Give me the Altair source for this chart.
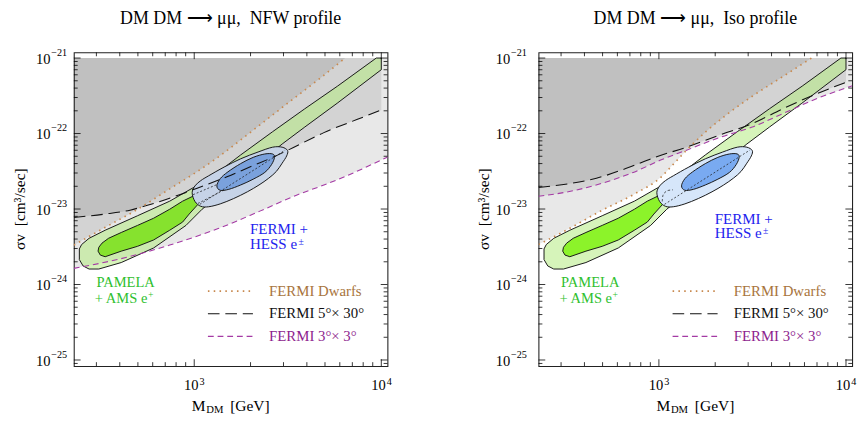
import math
import altair as alt
import pandas as pd

# ---------------------------------------------------------------------------
# Values.
# Coordinates are log10(M_DM / GeV) and log10(sigma v / cm^3 s^-1).
# ---------------------------------------------------------------------------

# PAMELA + AMS e+ region, outer contour (identical in both panels)
pamela_outer_logM = [2.386, 2.398, 2.438, 2.524, 2.697, 2.869, 2.990, 3.042, 3.160, 3.248,
                     3.419, 3.590, 3.766, 3.973, 4.000, 4.000, 3.764, 3.591, 3.470, 3.263,
                     3.042, 2.956, 2.783, 2.610, 2.490, 2.438, 2.406, 2.386]
pamela_outer_logSV = [-23.529, -23.471, -23.388, -23.281, -23.089, -22.896, -22.724, -22.660, -22.451, -22.284,
                      -21.976, -21.674, -21.372, -21.000, -21.000, -21.154, -21.599, -21.914, -22.139, -22.560,
                      -23.003, -23.217, -23.516, -23.709, -23.795, -23.795, -23.754, -23.670]

# PAMELA + AMS e+ region, inner contour
pamela_inner_logM = [2.490, 2.507, 2.542, 2.610, 2.697, 2.783, 2.869, 2.938, 2.999, 3.020,
                     2.973, 2.938, 2.869, 2.783, 2.697, 2.610, 2.524, 2.498, 2.486]
pamela_inner_logSV = [-23.507, -23.452, -23.388, -23.311, -23.217, -23.122, -23.003, -22.896, -22.823, -22.938,
                      -23.067, -23.173, -23.281, -23.410, -23.494, -23.558, -23.632, -23.610, -23.558]

# FERMI + HESS e+- region, outer contour
hess_outer_logM = [2.989, 3.004, 3.035, 3.077, 3.160, 3.248, 3.341, 3.419, 3.470, 3.499, 3.494,
                   3.470, 3.439, 3.398, 3.346, 3.284, 3.211, 3.139, 3.077, 3.035, 3.004]
hess_outer_logSV = [-22.784, -22.694, -22.624, -22.560, -22.444, -22.335, -22.245, -22.181, -22.181, -22.226, -22.297,
                    -22.393, -22.502, -22.592, -22.682, -22.772, -22.861, -22.932, -22.970, -22.964, -22.900]

# FERMI + HESS e+- region, inner contour
hess_inner_logM = [3.121, 3.139, 3.180, 3.248, 3.315, 3.377, 3.419, 3.429, 3.413, 3.377, 3.315, 3.248, 3.185, 3.139]
hess_inner_logSV = [-22.694, -22.598, -22.508, -22.399, -22.316, -22.271, -22.271, -22.316, -22.412, -22.515,
                    -22.605, -22.682, -22.739, -22.752]

# dotted / dashed contour pieces seen through the FERMI + HESS region
hidden_a_logM, hidden_a_logSV = [2.994, 3.128], [-22.810, -22.669]
hidden_b_logM, hidden_b_logSV = [3.020, 3.160], [-22.926, -22.746]
hidden_c_logM, hidden_c_logSV = [3.030, 3.486], [-22.938, -22.220]
hidden_arc_logM, hidden_arc_logSV = [3.018, 3.023, 3.044, 3.075], [-22.900, -22.810, -22.759, -22.746]

# Exclusion bounds, NFW profile
nfw_dwarfs_logM = [2.3565, 2.522, 2.698, 2.869, 3.009, 3.165, 3.248, 3.507, 3.678, 3.807]
nfw_dwarfs_logSV = [-23.478, -23.246, -23.003, -22.733, -22.515, -22.245, -22.085, -21.584, -21.257, -21.000]
nfw_5x30_logM = [2.3565, 2.522, 2.657, 2.750, 2.849, 2.937, 3.040, 3.175, 3.315, 3.419, 3.507, 3.693, 3.869, 4.000]
nfw_5x30_logSV = [-23.112, -23.067, -23.015, -22.951, -22.874, -22.797, -22.701, -22.573, -22.425, -22.316,
                  -22.213, -21.988, -21.815, -21.687]
nfw_3x3_logM = [2.3565, 2.610, 2.869, 3.128, 3.351, 3.559, 3.693, 3.797, 4.035]
nfw_3x3_logSV = [-23.786, -23.657, -23.478, -23.259, -23.028, -22.804, -22.682, -22.579, -22.309]

# Exclusion bounds, isothermal profile
iso_dwarfs_logM = [2.3565, 2.516, 2.692, 2.863, 3.013, 3.080, 3.148, 3.251, 3.355, 3.495, 3.666, 3.816]
iso_dwarfs_logSV = [-23.471, -23.266, -23.022, -22.810, -22.573, -22.399, -22.220, -21.976, -21.764, -21.513,
                    -21.240, -21.000]
iso_5x30_logM = [2.3565, 2.526, 2.666, 2.837, 2.977, 3.148, 3.324, 3.495, 3.666, 3.842, 4.000]
iso_5x30_logSV = [-22.714, -22.662, -22.592, -22.451, -22.316, -22.181, -22.021, -21.873, -21.668, -21.475, -21.321]
iso_3x3_logM = [2.3565, 2.521, 2.692, 2.863, 3.013, 3.148, 3.324, 3.495, 3.666, 3.842, 4.035]
iso_3x3_logSV = [-22.832, -22.768, -22.662, -22.515, -22.348, -22.220, -22.053, -21.918, -21.732, -21.539, -21.366]

# Tick labels: 10^3, 10^4 on x; 10^-25 ... 10^-21 on y
x_major = [3, 4]
x_label_exponents = ["3", "4"]
y_major = [-25, -24, -23, -22, -21]
y_label_exponents = ["−25", "−24", "−23", "−22", "−21"]
label_base = "10"

# Texts
titles = ["DM DM ⟶ μμ,\u00a0 NFW profile", "DM DM ⟶ μμ,\u00a0 Iso profile"]
legend_labels = ["FERMI Dwarfs", "FERMI 5°× 30°", "FERMI 3°× 3°"]
pamela_label = ["PAMELA", "+ AMS e", "+"]
hess_label = ["FERMI +", "HESS e", "±"]
y_title = "σv\u00a0 [cm³/sec]"
x_title = ["M", "DM", "[GeV]"]

# ---------------------------------------------------------------------------
W, H = 324, 324
X_DOMAIN = [2.3565, 4.033]
Y_DOMAIN = [-25.08, -20.925]
Y_TOP = -21.0
SERIF = "Liberation Serif"

XS = alt.Scale(domain=X_DOMAIN, nice=False, zero=False)
YS = alt.Scale(domain=Y_DOMAIN, nice=False, zero=False)

x_minor = [e + math.log10(k) for e in (2, 3) for k in range(2, 10)
           if X_DOMAIN[0] < e + math.log10(k) < X_DOMAIN[1]]
y_minor = [e + math.log10(k) for e in range(-26, -21) for k in range(2, 10)
           if Y_DOMAIN[0] < e + math.log10(k) < Y_DOMAIN[1]]


def table(lm, ls):
    return pd.DataFrame({"lm": lm, "ls": ls, "i": list(range(len(lm))), "top": Y_TOP})


def enc():
    return dict(x=alt.X("lm:Q", scale=XS, axis=None), y=alt.Y("ls:Q", scale=YS, axis=None))


def shade(lm, ls):
    return alt.Chart(table(lm, ls)).mark_area(color="black", opacity=0.09, interpolate="monotone",
                                              clip=True).encode(y2="top:Q", **enc())


def region(lm, ls, fill, opacity=1.0, interp="linear-closed"):
    return alt.Chart(table(lm, ls)).mark_line(fill=fill, fillOpacity=opacity, stroke="#151515",
                                              strokeWidth=1.0, interpolate=interp, clip=True).encode(
        order="i:Q", **enc())


def curve(lm, ls, color, dash, width, interp="monotone"):
    return alt.Chart(table(lm, ls)).mark_line(color=color, strokeDash=dash, strokeWidth=width,
                                              interpolate=interp, clip=True).encode(order="i:Q", **enc())


def ticks(values, side, length):
    m = alt.Chart(pd.DataFrame({"v": values})).mark_rule(color="black", strokeWidth=0.8)
    if side == "bottom":
        return m.encode(x=alt.X("v:Q", scale=XS, axis=None), y=alt.value(H), y2=alt.value(H - length))
    if side == "top":
        return m.encode(x=alt.X("v:Q", scale=XS, axis=None), y=alt.value(0), y2=alt.value(length))
    if side == "left":
        return m.encode(y=alt.Y("v:Q", scale=YS, axis=None), x=alt.value(0), x2=alt.value(length))
    return m.encode(y=alt.Y("v:Q", scale=YS, axis=None), x=alt.value(W), x2=alt.value(W - length))


def tick_labels(y_label_right):
    xd = pd.DataFrame({"v": x_major, "base": label_base, "exp": x_label_exponents})
    yd = pd.DataFrame({"v": y_major, "base": label_base, "exp": y_label_exponents})
    style = dict(font=SERIF, color="black")
    return [
        alt.Chart(xd).mark_text(fontSize=15, align="right", baseline="alphabetic", dx=4.5, **style).encode(
            x=alt.X("v:Q", scale=XS, axis=None), y=alt.value(H + 24.5), text="base:N"),
        alt.Chart(xd).mark_text(fontSize=10.5, align="left", baseline="alphabetic", dx=5.5, **style).encode(
            x=alt.X("v:Q", scale=XS, axis=None), y=alt.value(H + 19.5), text="exp:N"),
        alt.Chart(yd).mark_text(fontSize=15, align="right", baseline="middle", dx=-17.2, dy=1, **style).encode(
            y=alt.Y("v:Q", scale=YS, axis=None), x=alt.value(y_label_right), text="base:N"),
        alt.Chart(yd).mark_text(fontSize=10.5, align="right", baseline="middle", dy=-5.5, **style).encode(
            y=alt.Y("v:Q", scale=YS, axis=None), x=alt.value(y_label_right), text="exp:N"),
    ]


def text(s, x, y, color="black", size=15, align="left", baseline="alphabetic", angle=0):
    return alt.Chart(pd.DataFrame({"t": [s]})).mark_text(
        font=SERIF, fontSize=size, color=color, align=align, baseline=baseline, angle=angle).encode(
        x=alt.value(x), y=alt.value(y), text="t:N")


def seg(x0, x1, y, color, dash, width):
    return alt.Chart(pd.DataFrame({"t": [0]})).mark_rule(color=color, strokeDash=dash, strokeWidth=width).encode(
        x=alt.value(x0), x2=alt.value(x1), y=alt.value(y))


DWARF_STYLE = dict(color="#c8894f", dash=[1.6, 4.4], width=1.7)
F530_STYLE = dict(color="#111111", dash=[12, 6], width=1.1)
F33_STYLE = dict(color="#a43aa4", dash=[6, 4], width=1.1)
LEGEND_TEXT_COLORS = ["#a8743c", "#111111", "#8e1e8e"]
GREEN_TEXT, BLUE_TEXT = "#2fbf2f", "#2323ee"


def panel(idx):
    if idx == 0:
        dw, f5, f3 = (nfw_dwarfs_logM, nfw_dwarfs_logSV), (nfw_5x30_logM, nfw_5x30_logSV), (nfw_3x3_logM, nfw_3x3_logSV)
        inner_fill, oe_fill, ie_fill = "#86e22e", "#c6d3e7", "#7aa1dc"
        hess_y, y_label_right, y_title_x = 188.0, -7, -55
    else:
        dw, f5, f3 = (iso_dwarfs_logM, iso_dwarfs_logSV), (iso_5x30_logM, iso_5x30_logSV), (iso_3x3_logM, iso_3x3_logSV)
        inner_fill, oe_fill, ie_fill = "#8cf32a", "#d6e6fa", "#79aaf1"
        hess_y, y_label_right, y_title_x = 177.0, -12, -56

    layers = [
        shade(*f3),
        shade(*f5),
        shade(*dw),
        region(pamela_outer_logM, pamela_outer_logSV, "#b4eb82", opacity=0.55),
        region(pamela_inner_logM, pamela_inner_logSV, inner_fill),
        region(hess_outer_logM, hess_outer_logSV, oe_fill, interp="cardinal-closed"),
        region(hess_inner_logM, hess_inner_logSV, ie_fill, interp="cardinal-closed"),
        curve(hidden_c_logM, hidden_c_logSV, "#222222", [2, 2], 0.8, interp="linear"),
    ]
    if idx == 0:
        layers += [
            curve(hidden_a_logM, hidden_a_logSV, "#222222", [2, 2], 0.8, interp="linear"),
            curve(hidden_b_logM, hidden_b_logSV, "#222222", [2, 2], 0.8, interp="linear"),
        ]
    else:
        layers.append(curve(hidden_arc_logM, hidden_arc_logSV, "#222222", [2.5, 2], 0.8, interp="cardinal"))
    layers += [
        curve(*f3, **F33_STYLE),
        curve(*f5, **F530_STYLE),
        curve(*dw, **DWARF_STYLE),
        ticks(x_major, "bottom", 7), ticks(x_minor, "bottom", 4),
        ticks(x_major, "top", 7), ticks(x_minor, "top", 4),
        ticks(y_major, "left", 7), ticks(y_minor, "left", 4),
        ticks(y_major, "right", 7), ticks(y_minor, "right", 4),
    ]
    layers += tick_labels(y_label_right)
    # legend
    for k, (style, ly) in enumerate(zip([DWARF_STYLE, F530_STYLE, F33_STYLE], [246.7, 270.0, 293.4])):
        layers.append(seg(138.5, 185.0, ly, style["color"], style["dash"], style["width"] + 0.1))
        layers.append(text(legend_labels[k], 201.7, ly + 4.6, color=LEGEND_TEXT_COLORS[k], size=15.3))
    # annotations
    layers += [
        text(pamela_label[0], 53.5, 242.8, color=GREEN_TEXT, align="center", size=15),
        text(pamela_label[1], 76.0, 258.4, color=GREEN_TEXT, align="right", size=15),
        text(pamela_label[2], 76.5, 254.0, color=GREEN_TEXT, size=10),
        text(hess_label[0], 182, hess_y, color=BLUE_TEXT, size=15.5),
        text(hess_label[1], 182, hess_y + 15.2, color=BLUE_TEXT, size=15.5),
        text(hess_label[2], 232.0, hess_y + 11.0, color=BLUE_TEXT, size=10),
        # axis titles
        text(y_title, y_title_x, H / 2, size=16, align="center", baseline="middle", angle=270),
        text(x_title[0], 136.0, 370.0, size=16, align="right"),
        text(x_title[1], 136.8, 372.5, size=11),
        text(x_title[2], 161.5, 370.0, size=16),
    ]
    return alt.layer(*layers).properties(
        width=W, height=H,
        title=alt.TitleParams(titles[idx], font=SERIF, fontSize=18.5, fontWeight="normal", color="black",
                              anchor="middle", frame="group", offset=21),
    )


chart = alt.hconcat(panel(0), panel(1), spacing=86).properties(
    padding={"left": 4, "top": -6, "right": 0, "bottom": 0}
).configure_view(stroke="#222222", strokeWidth=1.1)

chart.save("out.html", embed_options={"renderer": "svg", "actions": False})
